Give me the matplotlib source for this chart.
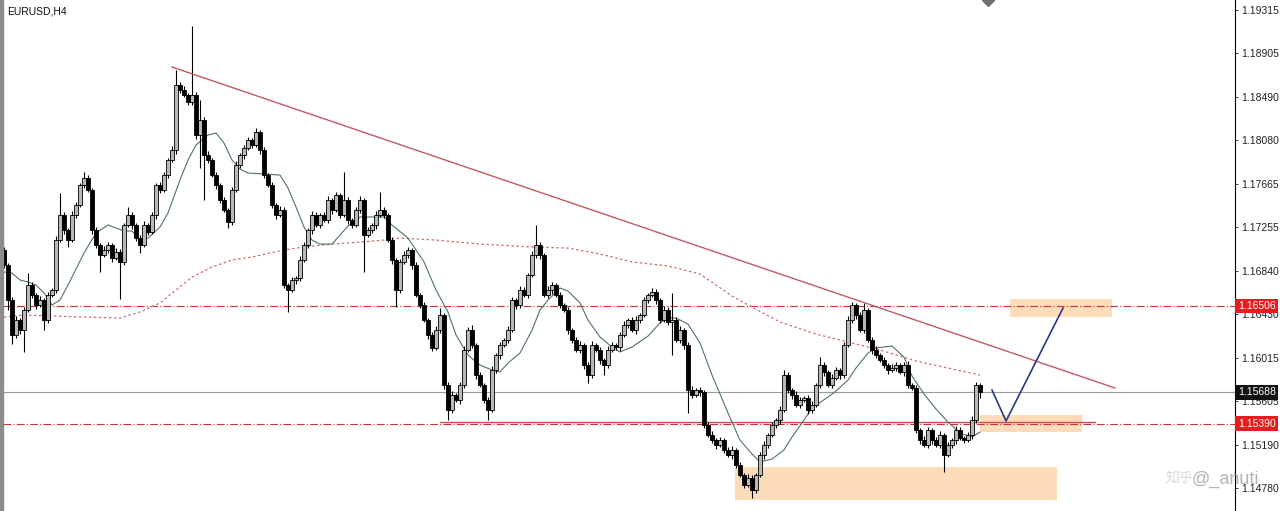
import numpy as np
import matplotlib
matplotlib.use("Agg")
import matplotlib.pyplot as plt
from matplotlib.patches import Rectangle

plt.rcParams['font.family'] = ['Liberation Sans', 'DejaVu Sans']

symbol = "EURUSD,H4"

# H4 candles, open of each bar = previous close
first_open = 1.17038
closes = [
    1.16895, 1.16563, 1.16231, 1.16373, 1.16278, 1.16468, 1.16705, 1.16610, 1.16516, 1.16563,
    1.16373, 1.16610, 1.16658, 1.17132, 1.17370, 1.17227, 1.17132, 1.17370, 1.17465, 1.17654,
    1.17721, 1.17607, 1.17227, 1.17085, 1.16990, 1.17038, 1.17085, 1.16962, 1.17019, 1.16924,
    1.17275, 1.17370, 1.17275, 1.17151, 1.17085, 1.17275, 1.17208, 1.17370, 1.17654, 1.17607,
    1.17749, 1.17892, 1.17987, 1.18603, 1.18556, 1.18508, 1.18442, 1.18508, 1.18129, 1.18271,
    1.17939, 1.17892, 1.17749, 1.17654, 1.17512, 1.17417, 1.17303, 1.17607, 1.17844, 1.17939,
    1.18006, 1.18081, 1.18034, 1.18157, 1.17987, 1.17749, 1.17654, 1.17465, 1.17370, 1.17417,
    1.16705, 1.16658, 1.16753, 1.16772, 1.16943, 1.17085, 1.17227, 1.17370, 1.17275, 1.17370,
    1.17322, 1.17512, 1.17417, 1.17559, 1.17370, 1.17512, 1.17322, 1.17275, 1.17417, 1.17512,
    1.17180, 1.17227, 1.17275, 1.17370, 1.17417, 1.17370, 1.17132, 1.16943, 1.16658, 1.16924,
    1.16990, 1.17038, 1.16895, 1.16610, 1.16516, 1.16373, 1.16231, 1.16108, 1.16278, 1.16421,
    1.15756, 1.15519, 1.15661, 1.15614, 1.15756, 1.16089, 1.16278, 1.16136, 1.15851, 1.15756,
    1.15614, 1.15519, 1.15899, 1.16041, 1.16136, 1.16183, 1.16278, 1.16563, 1.16516, 1.16658,
    1.16610, 1.16800, 1.16990, 1.17085, 1.16990, 1.16610, 1.16658, 1.16705, 1.16610, 1.16516,
    1.16468, 1.16278, 1.16183, 1.16089, 1.16136, 1.15946, 1.15851, 1.16136, 1.16089, 1.15994,
    1.15946, 1.16089, 1.16136, 1.16120, 1.16231, 1.16326, 1.16373, 1.16278, 1.16373, 1.16421,
    1.16563, 1.16610, 1.16639, 1.16563, 1.16373, 1.16468, 1.16354, 1.16373, 1.16183, 1.16278,
    1.16136, 1.15709, 1.15661, 1.15709, 1.15690, 1.15377, 1.15282, 1.15234, 1.15187, 1.15234,
    1.15140, 1.15092, 1.15140, 1.14997, 1.14902, 1.14807, 1.14874, 1.14760, 1.14902, 1.15092,
    1.15187, 1.15282, 1.15377, 1.15424, 1.15519, 1.15851, 1.15709, 1.15661, 1.15567, 1.15614,
    1.15633, 1.15519, 1.15567, 1.15756, 1.15946, 1.15880, 1.15756, 1.15823, 1.15899, 1.15851,
    1.16136, 1.16373, 1.16516, 1.16421, 1.16278, 1.16468, 1.16183, 1.16089, 1.16041, 1.15994,
    1.15946, 1.15899, 1.15918, 1.15946, 1.15880, 1.15946, 1.15756, 1.15728, 1.15329, 1.15234,
    1.15187, 1.15329, 1.15234, 1.15187, 1.15282, 1.15092, 1.15187, 1.15234, 1.15329, 1.15253,
    1.15234, 1.15282, 1.15424, 1.15756, 1.15688,
]
# wick lengths beyond the body, in pips
wick_up = [
    3, 2, 3, 4, 2, 3, 11, 3, 2, 4, 2, 3, 2, 4, 21, 3, 2, 4, 3, 2,
    6, 3, 2, 3, 2, 4, 3, 2, 4, 3, 2, 8, 3, 2, 3, 4, 2, 3, 2, 3,
    3, 2, 4, 14, 3, 4, 2, 66, 3, 19, 3, 4, 2, 3, 2, 3, 2, 3, 4, 2,
    3, 3, 2, 4, 2, 3, 2, 3, 2, 4, 3, 2, 3, 2, 4, 3, 2, 4, 3, 2,
    3, 4, 2, 3, 2, 27, 3, 2, 3, 4, 2, 3, 2, 4, 17, 3, 2, 3, 2, 3,
    4, 3, 2, 3, 2, 3, 2, 3, 4, 7, 2, 3, 4, 2, 3, 4, 3, 5, 2, 3,
    2, 3, 4, 2, 3, 2, 4, 3, 2, 4, 3, 2, 4, 19, 3, 2, 4, 3, 2, 3,
    2, 3, 2, 3, 4, 2, 3, 4, 2, 3, 2, 4, 3, 2, 3, 4, 2, 3, 4, 2,
    3, 2, 4, 3, 2, 4, 3, 26, 3, 4, 2, 3, 4, 2, 3, 2, 3, 4, 2, 3,
    2, 3, 4, 2, 3, 2, 4, 3, 2, 3, 4, 2, 3, 2, 4, 5, 3, 2, 4, 3,
    2, 3, 4, 2, 8, 3, 2, 4, 3, 2, 3, 4, 3, 2, 3, 7, 2, 3, 4, 2,
    3, 2, 4, 3, 2, 3, 4, 2, 3, 2, 4, 3, 2, 3, 4, 2, 3, 2, 4, 3,
    2, 3, 4, 3, 2,
]
wick_dn = [
    3, 9, 9, 3, 4, 21, 2, 3, 4, 2, 9, 3, 2, 3, 2, 4, 7, 2, 3, 2,
    3, 2, 4, 3, 16, 2, 3, 4, 2, 35, 3, 2, 4, 3, 8, 2, 3, 2, 4, 3,
    2, 3, 2, 4, 3, 2, 3, 3, 4, 31, 43, 3, 2, 4, 3, 2, 6, 3, 2, 3,
    4, 2, 3, 2, 4, 3, 2, 3, 4, 2, 3, 21, 2, 4, 3, 2, 3, 4, 2, 3,
    2, 3, 4, 2, 3, 2, 4, 3, 2, 3, 35, 2, 3, 4, 2, 3, 2, 4, 16, 3,
    2, 3, 4, 2, 3, 2, 4, 3, 2, 3, 4, 9, 3, 2, 4, 3, 2, 3, 4, 2,
    3, 9, 2, 3, 4, 2, 3, 2, 4, 3, 2, 3, 2, 3, 4, 2, 3, 4, 2, 3,
    2, 4, 3, 2, 3, 4, 8, 3, 2, 4, 9, 3, 2, 3, 4, 2, 3, 2, 4, 3,
    2, 3, 2, 4, 3, 2, 3, 31, 2, 3, 4, 22, 3, 2, 4, 3, 2, 3, 4, 2,
    3, 2, 4, 3, 2, 3, 2, 8, 3, 2, 4, 3, 2, 3, 4, 2, 3, 4, 2, 3,
    2, 4, 3, 2, 3, 4, 2, 3, 2, 4, 3, 2, 3, 4, 2, 3, 2, 4, 3, 2,
    3, 4, 2, 3, 2, 4, 3, 2, 3, 4, 2, 3, 4, 2, 3, 16, 2, 3, 4, 2,
    3, 2, 4, 3, 5,
]

# moving averages (bar index, price)
ma_fast_idx = [0, 2, 4, 6, 8, 10, 12, 14, 16, 20, 23, 26, 28, 30, 32, 34, 36, 39, 41, 44,
               46, 48, 51, 53, 55, 57, 59, 61, 65, 69, 71, 73, 75, 77, 79, 82, 84, 86, 89, 95,
               97, 101, 105, 108, 111, 113, 116, 119, 122, 124, 126, 129, 132, 134, 136, 139, 141, 144, 146, 149,
               152, 154, 157, 161, 164, 166, 168, 171, 174, 177, 181, 184, 187, 189, 192, 195, 197, 200, 202, 206,
               208, 211, 213, 216, 218, 222, 225, 227, 230, 233, 236, 239, 242, 244]
ma_fast = [1.16829, 1.16819, 1.16753, 1.16734, 1.16705, 1.16629, 1.16516, 1.16563, 1.16705, 1.17009,
           1.17199, 1.17275, 1.17246, 1.17218, 1.17218, 1.17132, 1.17151, 1.17256, 1.17389, 1.17702,
           1.17892, 1.18034, 1.18129, 1.18148, 1.18053, 1.17892, 1.17806, 1.17768, 1.17759, 1.17749,
           1.17626, 1.17446, 1.17256, 1.17132, 1.17094, 1.17094, 1.17180, 1.17265, 1.17351, 1.17351,
           1.17275, 1.17151, 1.16924, 1.16658, 1.16449, 1.16231, 1.16041, 1.15946, 1.15899, 1.15880,
           1.15965, 1.16060, 1.16278, 1.16468, 1.16563, 1.16677, 1.16648, 1.16535, 1.16373, 1.16212,
           1.16117, 1.16070, 1.16117, 1.16221, 1.16345, 1.16392, 1.16392, 1.16335, 1.16155, 1.15851,
           1.15491, 1.15234, 1.15102, 1.15026, 1.15054, 1.15140, 1.15263, 1.15424, 1.15538, 1.15643,
           1.15699, 1.15804, 1.15918, 1.16060, 1.16108, 1.16127, 1.16022, 1.15842, 1.15671, 1.15529,
           1.15405, 1.15301, 1.15263, 1.15310]
ma_slow_idx = [0, 5, 12, 20, 29, 34, 39, 43, 47, 52, 57, 62, 70, 75, 82, 89, 95, 99, 108, 119,
               132, 141, 149, 157, 166, 174, 182, 186, 194, 203, 211, 219, 228, 236, 244]
ma_slow = [1.16402, 1.16421, 1.16411, 1.16402, 1.16392, 1.16449, 1.16535, 1.16658, 1.16781, 1.16876,
           1.16943, 1.16971, 1.17038, 1.17066, 1.17094, 1.17113, 1.17132, 1.17151, 1.17132, 1.17094,
           1.17066, 1.17056, 1.17000, 1.16924, 1.16886, 1.16810, 1.16601, 1.16516, 1.16354, 1.16240,
           1.16165, 1.16089, 1.15984, 1.15918, 1.15851]

tick_prices = [1.19315, 1.18905, 1.18490, 1.18080, 1.17665, 1.17255,
               1.16840, 1.16430, 1.16015, 1.15605, 1.15190, 1.14780]
level_hi = 1.16506
level_lo = 1.15390
bid = 1.15688
support_px = 1.15405
support_idx = [109, 272.75]
trend_idx = [42, 277.75]
trend_px = [1.18774, 1.15728]
zones = [(251.5, 277.0, 1.16402, 1.16573),
         (244.0, 269.5, 1.15310, 1.15472),
         (182.75, 263.25, 1.14665, 1.14978)]
path_idx = [247, 250.5, 264.75]
path_px = [1.15709, 1.15415, 1.16487]

closes = np.array(closes)
opens = np.r_[first_open, closes[:-1]]
highs = np.maximum(opens, closes) + np.array(wick_up) * 1e-4
lows = np.minimum(opens, closes) - np.array(wick_dn) * 1e-4
x = np.arange(len(closes))
bull = closes >= opens

fig = plt.figure(figsize=(12.8, 5.11), dpi=100)
ax = fig.add_axes([3 / 1280, 0, 1232 / 1280, 1])
ax.set_xlim(-0.25, 307.75)
ax.set_ylim(1.14561, 1.19410)

# zones under everything
for x0, x1, y0, y1 in zones:
    ax.add_patch(Rectangle((x0, y0), x1 - x0, y1 - y0, facecolor='#fddcb9', edgecolor='none', zorder=0))

ax.axhline(level_hi, color='#d03030', lw=0.8, ls=(0, (7, 2, 1, 2)), zorder=1)
ax.axhline(level_lo, color='#d03030', lw=0.8, ls=(0, (7, 2, 1, 2)), zorder=1)
ax.axhline(bid, color='#9a9a9a', lw=0.8, zorder=1)
ax.plot(support_idx, [support_px, support_px], color='#d04858', lw=1.0, zorder=1)

ax.plot(ma_slow_idx, ma_slow, color='#cf6f6f', lw=0.9, ls=(0, (2, 2)), zorder=2)
ax.plot(ma_fast_idx, ma_fast, color='#4f7560', lw=0.8, zorder=2)

# candles
ax.vlines(x, lows, highs, color='black', lw=0.8, zorder=3)
body = np.maximum(np.abs(closes - opens), 0.00006)
ax.bar(x[bull], body[bull], bottom=np.minimum(opens, closes)[bull], width=0.8,
       color='#b8b8b8', edgecolor='black', lw=0.6, zorder=4)
ax.bar(x[~bull], body[~bull], bottom=np.minimum(opens, closes)[~bull], width=0.8,
       color='black', edgecolor='black', lw=0.6, zorder=4)

ax.plot(trend_idx, trend_px, color='#c25a66', lw=1.0, zorder=5)
ax.plot(path_idx, path_px, color='#2b3a86', lw=1.2, zorder=5)

# little marker at the top edge
ax.plot([246], [1.19410], marker='D', ms=6, color='#707070', zorder=6, clip_on=True)

# axes styling
for s in ['left', 'top', 'bottom']:
    ax.spines[s].set_visible(False)
ax.spines['right'].set_color('black')
ax.spines['right'].set_linewidth(0.8)
ax.set_xticks([])
ax.yaxis.tick_right()
ax.set_yticks(tick_prices)
ax.set_yticklabels([f"{p:.5f}" for p in tick_prices])
ax.tick_params(axis='y', labelsize=7.5, length=2.5, width=0.6, pad=2, colors='#222222')

for price, fc in [(level_hi, '#e41e1e'), (bid, '#111111'), (level_lo, '#e41e1e')]:
    ax.annotate(f"{price:.5f}", xy=(1, price), xycoords=('axes fraction', 'data'),
                xytext=(2, 0), textcoords='offset points', va='center', ha='left',
                fontsize=7.5, color='white', zorder=10, annotation_clip=False,
                bbox=dict(boxstyle='square,pad=0.22', fc=fc, ec='none'))

ax.text(0.003, 0.988, symbol, transform=ax.transAxes, fontsize=7.5, va='top', ha='left', color='#111111')

# left border of the window
fig.add_artist(Rectangle((0, 0), 3 / 1280, 1, transform=fig.transFigure, color='#8c8c8c'))

# watermark
fig.text(1166 / 1280, 1 - 479 / 511, '知乎', fontsize=10, color='#d8d8d8', va='center',
         family=['Noto Sans CJK SC', 'DejaVu Sans'])
fig.text(1192 / 1280, 1 - 479 / 511, '@_anuti', fontsize=13, color='#9a9a9a', alpha=0.75, va='center')

fig.savefig('out.png', dpi=100)
